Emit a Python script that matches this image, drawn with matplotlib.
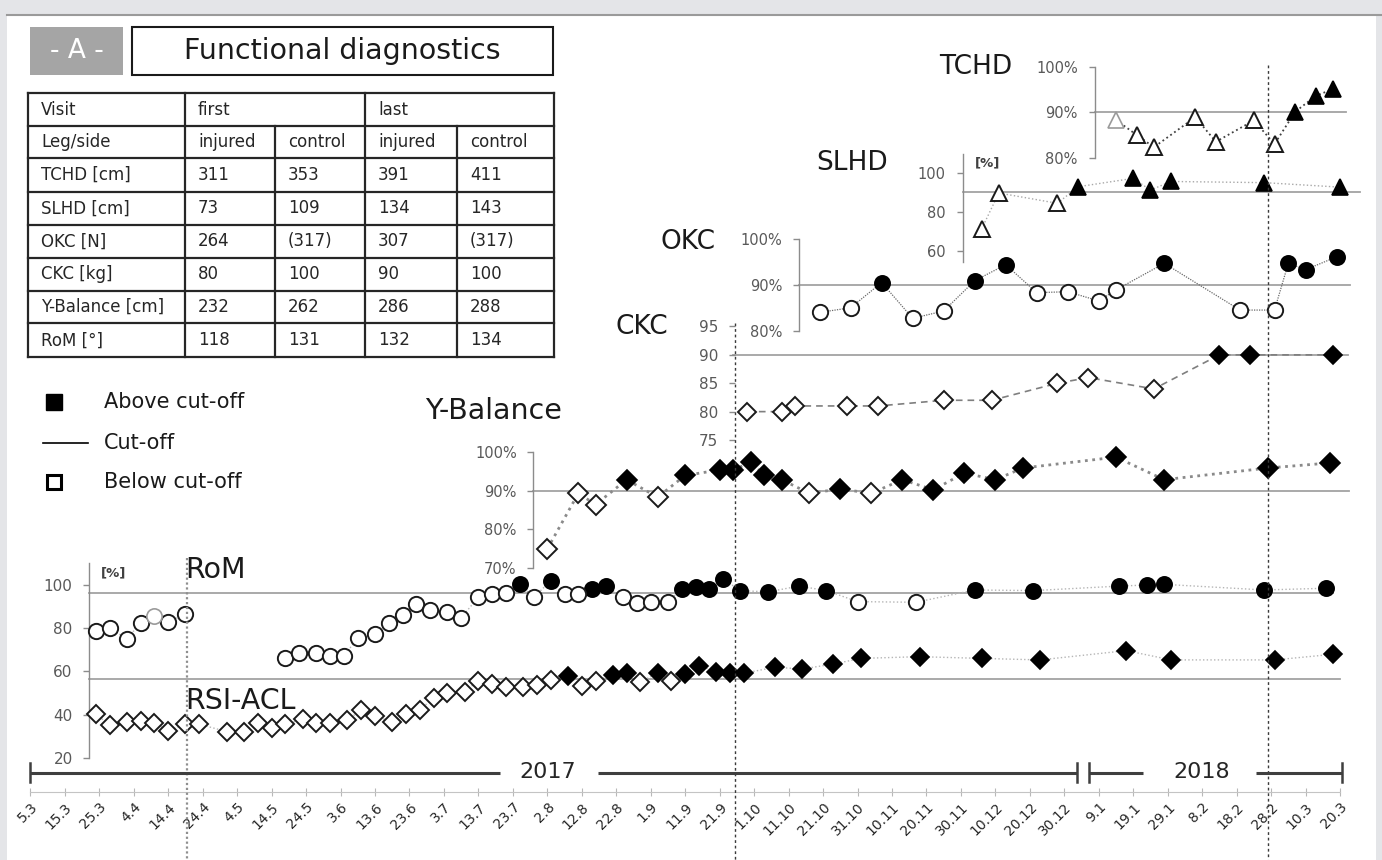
import matplotlib.pyplot as plt
import numpy as np
from matplotlib.patches import Rectangle

plt.rcParams['font.family'] = ['DejaVu Sans']

# ---------------- data (days after 5.3.2017) ----------------
tick_labels = ['5.3', '15.3', '25.3', '4.4', '14.4', '24.4', '4.5', '14.5', '24.5', '3.6',
               '13.6', '23.6', '3.7', '13.7', '23.7', '2.8', '12.8', '22.8', '1.9', '11.9',
               '21.9', '1.10', '11.10', '21.10', '31.10', '10.11', '20.11', '30.11', '10.12',
               '20.12', '30.12', '9.1', '19.1', '29.1', '8.2', '18.2', '28.2', '10.3', '20.3']

tchd_day = [315, 321, 326, 338, 344, 355, 361, 367, 373, 378]
tchd_val = [88.3, 85.0, 82.3, 88.9, 83.5, 88.2, 83.0, 90.1, 93.6, 95.1]
tchd_cut = 90

slhd_day = [276, 281, 298, 304, 320, 325, 331, 358, 380]
slhd_val = [71.1, 89.6, 84.3, 92.8, 97.1, 91.1, 95.5, 94.9, 92.6]
slhd_cut = 90

okc_day = [229, 238, 247, 256, 265, 274, 283, 292, 301, 310, 315, 329, 351, 361, 365, 370, 379]
okc_val = [84.0, 85.0, 90.5, 82.7, 84.3, 90.9, 94.4, 88.3, 88.5, 86.5, 88.9, 94.7, 84.5, 84.5,
           94.7, 93.3, 96.1]
okc_cut = 90

ckc_day = [208, 218, 222, 237, 246, 265, 279, 298, 307, 326, 345, 354, 378]
ckc_val = [80, 80, 81, 81, 81, 82, 82, 85, 86, 84, 90, 90, 90]
ckc_cut = 90

yb_day = [150, 159, 164, 173, 182, 190, 200, 204, 209, 213, 218, 226, 235, 244, 253, 262,
          271, 280, 288, 315, 329, 359, 377]
yb_val = [75.0, 89.3, 86.4, 92.8, 88.3, 93.9, 95.3, 95.3, 97.3, 93.9, 92.8, 89.3, 90.4, 89.3,
          92.8, 90.2, 94.5, 92.8, 95.8, 98.6, 92.8, 95.8, 97.1]
yb_cut = 90

rom_day = [19, 23, 28, 32, 36, 40, 45, 74, 78, 83, 87, 91, 95, 100, 104, 108, 112, 116, 121,
           125, 130, 134, 138, 142, 146, 151, 155, 159, 163, 167, 172, 176, 180, 185, 189, 193,
           197, 201, 206, 214, 223, 231, 240, 257, 274, 291, 316, 324, 329, 358, 376]
rom_val = [78.8, 80.2, 75.0, 82.5, 85.8, 82.7, 86.6, 66.3, 68.7, 68.4, 67.1, 67.1, 75.6, 77.3,
           82.3, 86.1, 91.1, 88.4, 87.7, 84.9, 94.3, 95.9, 96.2, 100.3, 94.3, 101.9, 95.7, 95.7,
           98.1, 99.5, 94.3, 91.8, 92.3, 92.3, 98.1, 99.2, 98.1, 102.8, 97.4, 96.8, 99.5, 97.4,
           92.3, 92.0, 97.7, 97.4, 99.5, 100.0, 100.3, 97.7, 98.5]
rom_cut = 96.5
rom_pale = [36]
rom_break = [45]

rsi_day = [19, 23, 28, 32, 36, 40, 45, 49, 57, 62, 66, 70, 74, 79, 83, 87, 92, 96, 100, 105,
           109, 113, 117, 121, 126, 130, 134, 138, 143, 147, 151, 156, 160, 164, 169, 173, 177,
           182, 186, 190, 194, 199, 203, 207, 216, 224, 233, 241, 258, 276, 293, 318, 331, 361, 378]
rsi_val = [40.1, 35.2, 36.4, 37.2, 36.0, 32.5, 35.5, 35.5, 32.1, 32.1, 36.0, 33.9, 35.5, 37.8,
           36.0, 36.0, 37.5, 42.1, 39.5, 36.4, 40.3, 42.1, 47.8, 49.8, 50.6, 55.7, 54.2, 52.6,
           52.9, 53.7, 56.0, 57.7, 53.2, 55.7, 58.3, 59.1, 55.2, 59.1, 55.7, 58.7, 62.5, 59.9,
           59.1, 59.1, 61.9, 61.1, 63.4, 66.0, 66.8, 66.0, 65.3, 69.6, 65.3, 65.3, 67.9]
rsi_cut = 56.5

event_days = [45.5, 204.4, 359.1]

table_head = ['Visit', 'first', '', 'last', '']
table_sub = ['Leg/side', 'injured', 'control', 'injured', 'control']
table_rows = ['TCHD [cm]', 'SLHD [cm]', 'OKC [N]', 'CKC [kg]', 'Y-Balance [cm]', 'RoM [°]']
first_injured = ['311', '73', '264', '80', '232', '118']
first_control = ['353', '109', '(317)', '100', '262', '131']
last_injured = ['391', '134', '307', '90', '286', '132']
last_control = ['411', '143', '(317)', '100', '288', '134']

# ---------------- layout helpers (pixels) ----------------
W, H = 1382, 860
X0, X1 = 30.4, 1340.0
NDAYS = 380


def fx(px):
    return px / W


def fy(py):
    return 1 - py / H


def day_at(px):
    return (px - X0) / (X1 - X0) * NDAYS


fig = plt.figure(figsize=(W / 100, H / 100), dpi=100, facecolor='#e4e5e8')

# decoration axes in pixel coordinates
axd = fig.add_axes([0, 0, 1, 1])
axd.set_xlim(0, W)
axd.set_ylim(H, 0)
axd.axis('off')
axd.set_zorder(-1)
axd.add_patch(Rectangle((7, 15), 1369, 845, facecolor='white', edgecolor='none'))
axd.plot([7, W], [14.5, 14.5], color='#9a9a9a', lw=1.5)

# title
axd.add_patch(Rectangle((30.4, 26.7), 92.8, 48.3, facecolor='#a5a5a5', edgecolor='none'))
axd.text(76.8, 51, '- A -', color='white', fontsize=19, ha='center', va='center')
axd.add_patch(Rectangle((132, 26.5), 421, 48.5, facecolor='white', edgecolor='#1a1a1a', lw=1.5))
axd.text(342.5, 51, 'Functional diagnostics', fontsize=20.5, ha='center', va='center', color='#1a1a1a')

# table
col_x = [27.9, 185, 275, 365, 457, 554]
row_y = [93.3, 126, 158.3, 191.7, 225, 257.7, 290.7, 323.3, 357.3]
for y in row_y:
    axd.plot([col_x[0], col_x[-1]], [y, y], color='#262626', lw=1.6)
for i, x in enumerate(col_x):
    top = row_y[1] if i in (2, 4) else row_y[0]
    axd.plot([x, x], [top, row_y[-1]], color='#262626', lw=1.6)
cells = [table_head, table_sub] + [list(r) for r in zip(table_rows, first_injured, first_control,
                                                        last_injured, last_control)]
for r, row in enumerate(cells):
    yc = (row_y[r] + row_y[r + 1]) / 2
    for c, txt in enumerate(row):
        axd.text(col_x[c] + 13, yc, txt, fontsize=12, va='center', ha='left', color='#262626')

# legend
axd.plot(54.5, 402, marker='s', ms=11, color='black')
axd.plot([42.7, 87.7], [443, 443], color='black', lw=1.2)
axd.plot(54.5, 481.7, marker='s', ms=10.5, mfc='white', mec='black', mew=2.2)
for y, t in [(402, 'Above cut-off'), (443, 'Cut-off'), (481.7, 'Below cut-off')]:
    axd.text(104, y, t, fontsize=15, va='center', color='#1a1a1a')

# panel names
for x, y, t, ha, fs in [(939, 67, 'TCHD', 'left', 19), (816, 163, 'SLHD', 'left', 19),
                        (716, 242, 'OKC', 'right', 19), (668, 327, 'CKC', 'right', 19),
                        (425, 411, 'Y-Balance', 'left', 20.5), (185, 570, 'RoM', 'left', 20.5),
                        (185, 701, 'RSI-ACL', 'left', 20.5)]:
    axd.text(x, y, t, fontsize=fs, ha=ha, va='center', color='#1a1a1a')
axd.text(988, 163, '[%]', fontsize=9.5, fontweight='bold', ha='center', va='center', color='#404040')
axd.text(114, 573, '[%]', fontsize=9.5, fontweight='bold', ha='center', va='center', color='#404040')


def panel(v_hi, p_hi, v_lo, p_lo, spine_px, ticks, labels, bounds=None, fs=10.5, show_spine=True):
    ax = fig.add_axes([fx(X0), fy(p_lo), fx(X1) - fx(X0), (p_lo - p_hi) / H])
    ax.set_xlim(0, NDAYS)
    ax.set_ylim(v_lo, v_hi)
    ax.patch.set_visible(False)
    for s in ('top', 'right', 'bottom'):
        ax.spines[s].set_visible(False)
    sp = ax.spines['left']
    sp.set_position(('data', day_at(spine_px)))
    sp.set_bounds(*(bounds or (v_lo, v_hi)))
    sp.set_color('#8c8c8c')
    sp.set_linewidth(1)
    sp.set_visible(show_spine)
    ax.set_xticks([])
    ax.set_yticks(ticks, labels)
    ax.tick_params(axis='y', length=4, width=1, color='#8c8c8c', labelcolor='#595959',
                   labelsize=fs, pad=8)
    return ax


def cutoff(ax, cut, spine_px, end_px):
    ax.plot([day_at(spine_px), day_at(end_px)], [cut, cut], color='#a3a3a3', lw=1.3,
            zorder=1, clip_on=False)


def series(ax, days, vals, cut, marker, ms, line_kw, pale=(), breaks=()):
    days = np.asarray(days, float)
    vals = np.asarray(vals, float)
    idx = [0] + [i + 1 for i, d in enumerate(days[:-1]) if d in breaks] + [len(days)]
    for a, b in zip(idx[:-1], idx[1:]):
        ax.plot(days[a:b], vals[a:b], zorder=2, clip_on=False, **line_kw)
    above = vals >= cut
    pale_m = np.isin(days, pale)
    ax.plot(days[above], vals[above], ls='none', marker=marker, ms=ms, mfc='black', mec='black',
            mew=1.2, zorder=3, clip_on=False)
    m = ~above & ~pale_m
    ax.plot(days[m], vals[m], ls='none', marker=marker, ms=ms, mfc='white', mec='#1a1a1a',
            mew=1.4, zorder=3, clip_on=False)
    m = ~above & pale_m
    ax.plot(days[m], vals[m], ls='none', marker=marker, ms=ms, mfc='white', mec='#9a9a9a',
            mew=1.2, zorder=3, clip_on=False)


# RoM / RSI-ACL
ax = panel(100, 585, 20, 757.7, 89.3, [20, 40, 60, 80, 100], ['20', '40', '60', '80', '100'],
           bounds=(20, 110), fs=11)
cutoff(ax, rom_cut, 89.3, 1333)
cutoff(ax, rsi_cut, 89.3, 1340)
series(ax, rom_day, rom_val, rom_cut, 'o', 11, dict(color='#b5b5b5', lw=1, ls=':'),
       pale=rom_pale, breaks=rom_break)
series(ax, rsi_day, rsi_val, rsi_cut, 'D', 9, dict(color='#b5b5b5', lw=1, ls=':'))

# Y-Balance
ax = panel(100, 451.7, 70, 568.3, 533.4, [70, 80, 90, 100], ['70%', '80%', '90%', '100%'])
cutoff(ax, yb_cut, 533.4, 1349)
series(ax, yb_day, yb_val, yb_cut, 'D', 10, dict(color='#8a8a8a', lw=2, ls=':'))

# CKC
ax = panel(95, 326.5, 75, 440, 735, [75, 80, 85, 90, 95], ['75', '80', '85', '90', '95'],
           fs=11, show_spine=False)
cutoff(ax, ckc_cut, 733, 1348)
series(ax, ckc_day, ckc_val, ckc_cut, 'D', 9.5, dict(color='#7f7f7f', lw=1.2, ls=(0, (4, 3))))

# OKC
ax = panel(100, 239, 80, 330.7, 799.2, [80, 90, 100], ['80%', '90%', '100%'])
cutoff(ax, okc_cut, 799.2, 1350)
series(ax, okc_day, okc_val, okc_cut, 'o', 11, dict(color='#6a6a6a', lw=0.9, ls=(0, (1, 1))))

# SLHD
ax = panel(100, 172.7, 60, 250.7, 962.6, [60, 80, 100], ['60', '80', '100'], bounds=(54.4, 109.6))
cutoff(ax, slhd_cut, 962.6, 1360)
series(ax, slhd_day, slhd_val, slhd_cut, '^', 11.5, dict(color='#a8a8a8', lw=1, ls=':'))

# TCHD
ax = panel(100, 66.7, 80, 157.7, 1094.5, [80, 90, 100], ['80%', '90%', '100%'])
cutoff(ax, tchd_cut, 1094.5, 1346)
series(ax, tchd_day, tchd_val, tchd_cut, '^', 11.5, dict(color='#404040', lw=1.3, ls=':'),
       pale=tchd_day[:1])

# date axis
axb = fig.add_axes([fx(X0), fy(791.7), fx(X1) - fx(X0), 0.001])
axb.set_xlim(0, NDAYS)
axb.patch.set_visible(False)
axb.set_yticks([])
for s in ('top', 'left', 'right'):
    axb.spines[s].set_visible(False)
axb.spines['bottom'].set_color('#c4c4c4')
axb.set_xticks(np.arange(len(tick_labels)) * 10, tick_labels, rotation=45, ha='right',
               rotation_mode='anchor', fontsize=10, color='#262626')
axb.tick_params(axis='x', direction='inout', length=6, color='#b8b8b8', pad=3)

# full-height axes: event lines and year bar (x in days, y in pixels)
axf = fig.add_axes([fx(X0), 0, fx(X1) - fx(X0), 1])
axf.set_xlim(0, NDAYS)
axf.set_ylim(H, 0)
axf.axis('off')
for d, top, col, lw, ls in zip(event_days, [558, 323, 65], ['#8f8f8f', '#3a3a3a', '#3a3a3a'],
                               [1.6, 1.0, 1.0], [(0, (1, 1.2)), (0, (2, 2)), (0, (2, 2))]):
    axf.plot([d, d], [top, H], color=col, lw=lw, ls=ls, clip_on=False)

for a, b in [(0, 136.3), (164.7, 303.8), (307.3, 322.9), (355.6, 380.5)]:
    axf.plot([a, b], [772.7, 772.7], color='#3f3f3f', lw=2.2, clip_on=False, solid_capstyle='butt')
for d in [0, 303.8, 307.3, 380.5]:
    axf.plot([d, d], [763, 782], color='#3f3f3f', lw=1.8, clip_on=False)
axf.text(150, 772, '2017', fontsize=16, ha='center', va='center', color='#262626')
axf.text(339.8, 772, '2018', fontsize=16, ha='center', va='center', color='#262626')

fig.savefig('out.png', dpi=100, facecolor=fig.get_facecolor())
